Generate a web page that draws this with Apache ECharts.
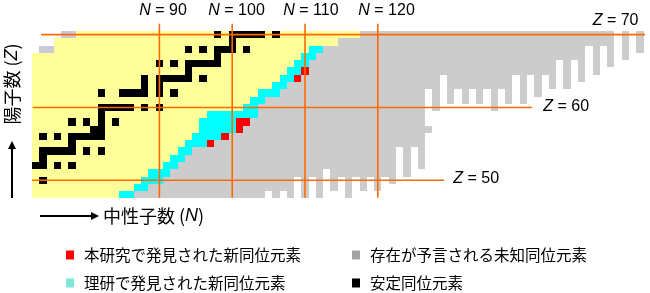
<!DOCTYPE html>
<html><head><meta charset="utf-8">
<script src="https://cdn.jsdelivr.net/npm/echarts@6/dist/echarts.min.js"></script>
<style>html,body{margin:0;padding:0;background:#fff}#c{width:650px;height:293px}</style>
</head><body><div id="c"></div>
<script>
// ---- data ----
const zRows       = [48,49,50,51,52,53,54,55,56,57,58,59,60,61,62,63,64,65,66,67,68,69,70];
const knownFirstN = [73,73,73,73,73,73,73,73,73,73,73,73,73,73,73,73,73,73,73,73,76,76,79];
const yellowLastN = [84,86,87,88,90,91,92,93,94,95,95,96,101,102,103,105,106,107,108,109,110,114,117];
const cyanLastN   = [86,88,90,91,92,93,94,96,98,100,100,103,103,104,106,107,108,109,110,111,112,114,117];
const newIsotopes = [[97,55],[99,56],[101,57],[101,58],[102,58],[109,64],[110,65]];
const stableN = [[],[],[74],[],[73,74,76,78],[74],[74,75,76,77,78,80,82],[78],[74,76,78,79,80,81,82],[81,82],
  [78,80,82,84],[82],[82,83,84,85,86,88,90],[],[82,85,86,87,88,90,92],[88,90],[88,90,91,92,93,94,96],[94],
  [90,92,94,95,96,97,98],[98],[94,96,98,99,100,102],[100],[98,100,101,102,103,104,106]];
const dripN    = [105,106,107,108,109,110,111,112,113,114,115,116,117,118,119,120,121,122,123,124,125,126,127,128,129,130,
                  131,132,133,134,135,136,137,138,139,140,141,142,143,144,145,146,147,148,149,150,151,152,153,154,155,156];
const dripZmin = [49,48,49,48,51,48,51,48,52,49,51,48,51,49,51,49,51,50,55,51,55,52,63,60,65,61,
                  63,61,63,61,63,60,63,61,65,61,65,62,65,63,67,63,67,64,69,65,69,66,71,67,71,68];
const extraGray   = [[127,57]];
const protonSide  = [[74,68],[75,68],[77,70],[78,70]];
const nMarks = [90,100,110,120];
const zMarks = [70,60,50];
const legendNames = ['本研究で発見された新同位元素','理研で発見された新同位元素','存在が予言される未知同位元素','安定同位元素'];

// ---- build cells ----
const N_MAX = 156;
function zmin(n){ const i = dripN.indexOf(n); return i < 0 ? 48 : dripZmin[i]; }
const yellow=[], cyan=[], red=[], gray=[], black=[], pside=[];
newIsotopes.forEach(c=>red.push(c));
zRows.forEach((z,i)=>{
  for(let n=knownFirstN[i]; n<=yellowLastN[i]; n++) yellow.push([n,z]);
  for(let n=yellowLastN[i]+1; n<=cyanLastN[i]; n++) cyan.push([n,z]);
  let last = cyanLastN[i];
  newIsotopes.forEach(c=>{ if(c[1]===z && c[0]>last) last=c[0]; });
  for(let n=last+1; n<=N_MAX; n++) if(z>=zmin(n)) gray.push([n,z]);
  stableN[i].forEach(n=>black.push([n,z]));
});
extraGray.forEach(c=>gray.push(c));
protonSide.forEach(c=>pside.push(c));

function cell(params, api){
  const a = api.coord([api.value(0)-0.5, api.value(1)+0.5]);
  const b = api.coord([api.value(0)+0.5, api.value(1)-0.5]);
  const x=Math.round(a[0]), y=Math.round(a[1]);
  return {type:'rect', shape:{x:x, y:y, width:Math.round(b[0])-x, height:Math.round(b[1])-y},
          style:{fill: api.visual('color')}};
}
function cellSeries(name, data, color, z){
  return {type:'custom', name:name, data:data, renderItem:cell, itemStyle:{color:color}, z:z, silent:true, clip:false};
}
const ORANGE = '#FF6A00';
const lineSeries = [];
nMarks.forEach(n=>lineSeries.push({type:'line', data:[[n,71.5],[n,47.6]], symbol:'none', clip:false, z:10,
  lineStyle:{color:ORANGE,width:1.6}, silent:true}));
const zExt = {70:[73.75,156.7], 60:[72.6,141.2], 50:[72.5,129.1]};
zMarks.forEach(z=>lineSeries.push({type:'line', data:[[zExt[z][0],z],[zExt[z][1],z]], symbol:'none', clip:false, z:10,
  lineStyle:{color:ORANGE,width:1.6}, silent:true}));

const chart = echarts.init(document.getElementById('c'), null, {renderer:'canvas'});
const LAT = 'Liberation Sans, Arial, sans-serif';
const JP = '"Noto Sans CJK JP", sans-serif';
function lbl(x,y,letter,rest){
  return {type:'text', x:x, y:y, style:{text:'{i|'+letter+'}'+rest, font:'16px '+LAT, fill:'#000', verticalAlign:'middle',
    rich:{i:{fontStyle:'italic', fontSize:16, fontFamily:LAT}}}};
}
function leg(name, color, left, top){
  return {left:left, top:top, orient:'horizontal', itemWidth:8, itemHeight:9, icon:'rect', padding:0,
    textStyle:{fontFamily:JP, fontSize:15.5, color:'#000', lineHeight:16, padding:[0,0,0,5]},
    data:[{name:name, itemStyle:{color:color}}], selectedMode:false};
}
chart.setOption({
  animation:false,
  grid:{left:32, top:23.72, width:611.52, height:174.72, containLabel:false},
  xAxis:{type:'value', min:72.5, max:156.5, show:false},
  yAxis:{type:'value', min:47.5, max:71.5, show:false},
  legend:[
    leg(legendNames[0], '#FF0000', 66, 247),
    leg(legendNames[1], '#80E6D8', 66, 275),
    leg(legendNames[2], '#A3A3A3', 352, 247),
    leg(legendNames[3], '#000000', 352, 275)
  ],
  series:[
    cellSeries('既知', yellow, '#FFFF99', 1),
    cellSeries(legendNames[2], gray, '#CCCCCC', 2),
    cellSeries('陽子過剰側', pside, '#C8CAD9', 2),
    cellSeries(legendNames[1], cyan, '#00FFFF', 3),
    cellSeries(legendNames[0], red, '#FF0000', 4),
    cellSeries(legendNames[3], black, '#000000', 5)
  ].concat(lineSeries),
  graphic:[
    lbl(139.3,11,'N',' = 90'), lbl(208.3,11,'N',' = 100'), lbl(283.3,11,'N',' = 110'), lbl(358.3,11,'N',' = 120'),
    lbl(592.7,20.5,'Z',' = 70'), lbl(543.3,106.3,'Z',' = 60'), lbl(453.3,179,'Z',' = 50'),
    {type:'text', x:103, y:216, style:{text:'中性子数 ({i|N})', font:'18px '+JP, fill:'#000', verticalAlign:'middle',
      rich:{i:{fontStyle:'italic', fontFamily:LAT, fontSize:18}}}},
    {type:'line', shape:{x1:40, y1:216, x2:92, y2:216}, style:{stroke:'#000', lineWidth:2}},
    {type:'polygon', shape:{points:[[99,216],[91,212],[91,220]]}, style:{fill:'#000'}},
    {type:'text', x:12, y:84, rotation:Math.PI/2, style:{text:'陽子数 ({i|Z})', font:'18px '+JP, fill:'#000', align:'center', verticalAlign:'middle',
      rich:{i:{fontStyle:'italic', fontFamily:LAT, fontSize:18}}}},
    {type:'line', shape:{x1:12, y1:198, x2:12, y2:148}, style:{stroke:'#000', lineWidth:2}},
    {type:'polygon', shape:{points:[[12,141],[8,149],[16,149]]}, style:{fill:'#000'}}
  ]
});
</script></body></html>
